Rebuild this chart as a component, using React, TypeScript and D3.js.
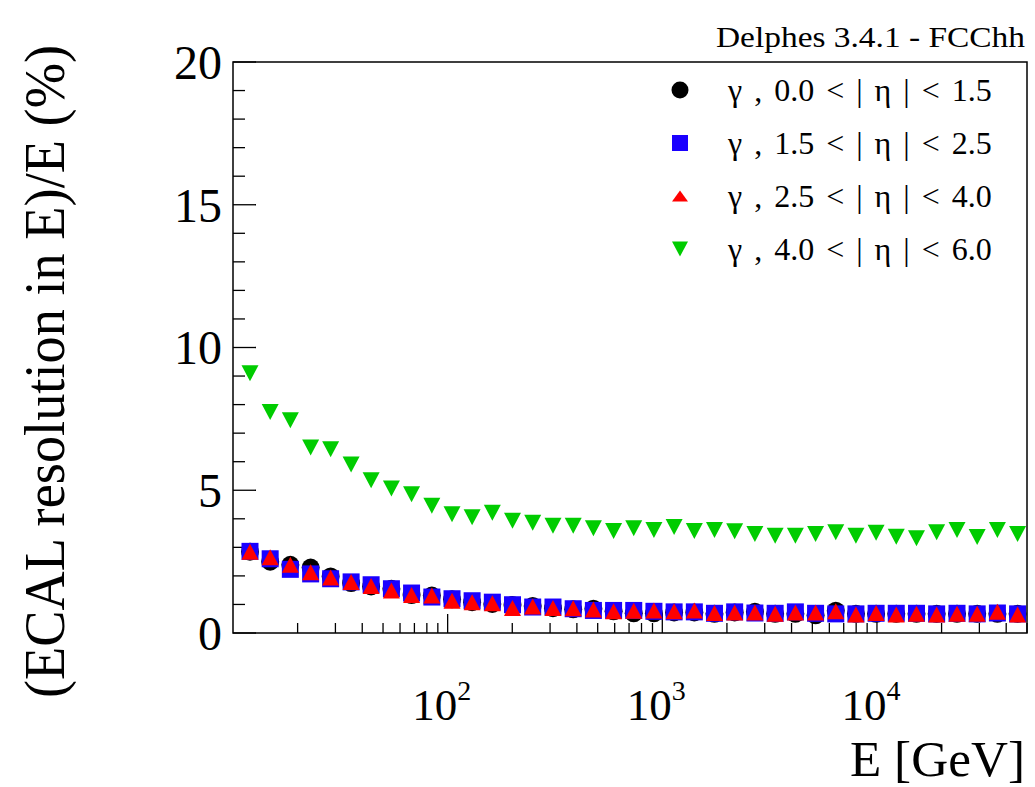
import React from "react";
import * as d3 from "d3";

// ---------- data ----------
const energies = [12.0, 14.9, 18.5, 23.0, 28.5, 35.5, 44.0, 54.7, 67.9, 84.4, 104.8, 130, 161.5, 200.5, 249, 309.5, 384.5, 477.5, 593, 736, 914, 1135, 1410, 1750, 2173, 2700, 3355, 4168, 5176, 6428, 7980, 9908, 12300, 15280, 18970, 23600, 29300, 36400, 45200];

const resEta00_15 = [2.85, 2.50, 2.39, 2.29, 1.98, 1.75, 1.63, 1.55, 1.33, 1.31, 1.18, 1.08, 1.02, 0.98, 0.95, 0.87, 0.83, 0.85, 0.76, 0.69, 0.69, 0.72, 0.72, 0.67, 0.72, 0.74, 0.67, 0.67, 0.62, 0.78, 0.67, 0.67, 0.67, 0.67, 0.67, 0.67, 0.67, 0.67, 0.67];
const resEta15_25 = [2.86, 2.60, 2.23, 2.07, 1.90, 1.79, 1.69, 1.55, 1.40, 1.26, 1.20, 1.13, 1.08, 0.99, 0.91, 0.91, 0.85, 0.79, 0.79, 0.79, 0.76, 0.74, 0.74, 0.69, 0.74, 0.70, 0.69, 0.74, 0.69, 0.67, 0.67, 0.69, 0.69, 0.69, 0.67, 0.69, 0.67, 0.70, 0.67];
const resEta25_40 = [2.85, 2.65, 2.39, 2.13, 1.94, 1.79, 1.65, 1.49, 1.33, 1.31, 1.13, 1.08, 1.04, 0.88, 0.93, 0.88, 0.87, 0.82, 0.76, 0.78, 0.79, 0.76, 0.79, 0.70, 0.72, 0.72, 0.67, 0.72, 0.72, 0.76, 0.65, 0.70, 0.65, 0.67, 0.65, 0.67, 0.67, 0.74, 0.65];
const resEta40_60 = [9.1, 7.74, 7.45, 6.50, 6.44, 5.90, 5.35, 5.06, 4.86, 4.46, 4.16, 4.05, 4.21, 3.93, 3.86, 3.76, 3.76, 3.67, 3.57, 3.67, 3.61, 3.71, 3.57, 3.61, 3.56, 3.47, 3.41, 3.41, 3.47, 3.53, 3.41, 3.51, 3.37, 3.32, 3.53, 3.61, 3.36, 3.61, 3.47];

const seriesLabels = ["γ , 0.0 < | η | < 1.5", "γ , 1.5 < | η | < 2.5", "γ , 2.5 < | η | < 4.0", "γ , 4.0 < | η | < 6.0"];
const yTickValues = [0, 5, 10, 15, 20];
const xTickExponents = [2, 3, 4];
const xDomain = [10, 50000];
const yDomain = [0, 20];

// ---------- layout ----------
const W = 1035, H = 787;
const L = 233, R = 1027, T = 62, B = 633;
const FONT = "'Liberation Serif', 'Times New Roman', serif";

type Shape = "circle" | "square" | "tri" | "trid";
const seriesDefs: { vals: number[]; color: string; shape: Shape }[] = [
  { vals: resEta00_15, color: "#000000", shape: "circle" },
  { vals: resEta15_25, color: "#1a00ff", shape: "square" },
  { vals: resEta25_40, color: "#ff0000", shape: "tri" },
  { vals: resEta40_60, color: "#00cc00", shape: "trid" },
];

function marker(shape: Shape, x: number, y: number, s: number, color: string, key?: any, th?: number) {
  const h = s / 2;
  const th2 = (th ?? s) / 2;
  if (shape === "circle") return <circle key={key} cx={x} cy={y} r={h} fill={color} />;
  if (shape === "square") return <rect key={key} x={x - h} y={y - h} width={s} height={s} fill={color} />;
  if (shape === "tri") return <path key={key} d={`M${x - h},${y + th2}L${x + h},${y + th2}L${x},${y - th2}Z`} fill={color} />;
  return <path key={key} d={`M${x - h},${y - th2}L${x + h},${y - th2}L${x},${y + th2}Z`} fill={color} />;
}

export default function App() {
  const x = d3.scaleLog().domain(xDomain).range([L, R]);
  const y = d3.scaleLinear().domain(yDomain).range([B, T]);

  const yMinor = d3.range(0, 21, 1);
  const xMinor: number[] = [];
  for (let d = 10; d < 50000; d *= 10) for (let k = 1; k < 10; k++) { const v = d * k; if (v > 10 && v <= 50000) xMinor.push(v); }

  return (
    <svg width={W} height={H} style={{ position: "absolute", left: 0, top: 0, background: "#fff" }} fontFamily={FONT}>
      <rect x={0} y={0} width={W} height={H} fill="#fff" />
      {/* ticks */}
      {yMinor.map((v) => {
        const major = v % 5 === 0;
        return <line key={"yt" + v} x1={L} x2={L + (major ? 23 : 12)} y1={y(v)} y2={y(v)} stroke="#000" strokeWidth={1.3} />;
      })}
      {xMinor.map((v) => {
        const major = Math.abs(Math.log10(v) - Math.round(Math.log10(v))) < 1e-9;
        return <line key={"xt" + v} x1={x(v)} x2={x(v)} y1={B} y2={B - (major ? 19 : 10)} stroke="#000" strokeWidth={1.3} />;
      })}
      {/* data */}
      {seriesDefs.map((sd, si) => (
        <g key={"s" + si}>
          {sd.vals.map((v, i) => marker(sd.shape, x(energies[i]), y(v), sd.shape === "circle" ? 18 : 17, sd.color, i, sd.shape === "tri" || sd.shape === "trid" ? 16 : undefined))}
        </g>
      ))}
      {/* frame */}
      <rect x={L} y={T} width={R - L} height={B - T} fill="none" stroke="#000" strokeWidth={1.5} />
      {/* y tick labels */}
      {yTickValues.map((v) => (
        <text key={"yl" + v} x={222} y={y(v)} dy="0.35em" textAnchor="end" fontSize={48}>{v}</text>
      ))}
      {/* x tick labels */}
      {xTickExponents.map((e) => (
        <text key={"xl" + e} x={x(Math.pow(10, e)) - 6} y={720} textAnchor="middle" fontSize={45}>
          10<tspan fontSize={28} dy={-20}>{e}</tspan>
        </text>
      ))}
      {/* axis titles */}
      <text x={1025} y={776} textAnchor="end" fontSize={50} textLength={175} lengthAdjust="spacingAndGlyphs">E [GeV]</text>
      <text transform={`translate(64,45) rotate(-90)`} textAnchor="end" fontSize={58} textLength={653} lengthAdjust="spacingAndGlyphs">(ECAL resolution in E)/E (%)</text>
      {/* top label */}
      <text x={1025} y={47} textAnchor="end" fontSize={29} textLength={309} lengthAdjust="spacingAndGlyphs">Delphes 3.4.1 - FCChh</text>
      {/* legend */}
      {seriesDefs.map((sd, i) => {
        const ly = 90 + i * 53;
        return (
          <g key={"lg" + i}>
            {marker(sd.shape, 680, ly, sd.shape === "circle" ? 17 : 16, sd.color, undefined, sd.shape === "tri" ? 11 : sd.shape === "trid" ? 15 : undefined)}
            <text x={728} y={ly} dy="0.35em" fontSize={32} wordSpacing={4}>{seriesLabels[i]}</text>
          </g>
        );
      })}
    </svg>
  );
}
